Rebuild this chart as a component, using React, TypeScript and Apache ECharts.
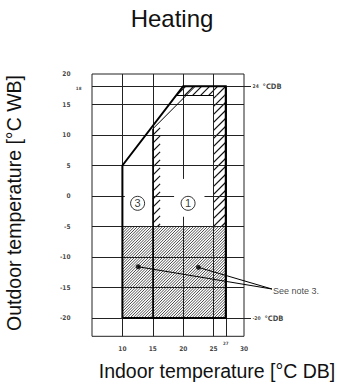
import React, { useEffect, useRef } from 'react';
import * as echarts from 'echarts';

// ---------- data (°C) ----------
const xRange = [5, 30];
const yRange = [-23, 20];
const xTickLabels = [10, 15, 20, 25, 30];
const xSmallTickLabels = [27];
const yTickLabels = [20, 15, 10, 5, 0, -5, -10, -15, -20];
const ySmallTickLabels = [18];

// grid segments: [fixed value, from, to]
const vGridLines: number[][] = [
  [10, -23, 20], [15, -23, 20], [20, -23, -3.4], [20, 2.8, 20], [25, -23, 20], [27, -23, 18],
];
const hGridLines: number[][] = [
  [18, 5, 31.15], [15, 5, 30], [10, 5, 30], [5, 5, 30],
  [0, 5, 10.4], [0, 15, 18.5], [0, 23.5, 30],
  [-5, 5, 30], [-10, 5, 30], [-15, 5, 30], [-20, 5, 31.15],
];

// operating envelope (outer, thick)
const envelope: number[][] = [[10, -20], [10, 5], [20, 18], [27, 18], [27, -20], [10, -20]];
// inner boundaries
const innerDiagonal: number[][] = [[15, 11], [22, 18]];
const innerTop: number[][] = [[18.85, 16.5], [25, 16.5]];
const innerLeft: number[][] = [[15, 11], [15, -20]];

// hatched regions
const denseHatch: number[][] = [[10, -5], [27, -5], [27, -20], [10, -20]];
const bandLeft: number[][] = [[15, 11], [16.2, 12.2], [16.2, -5], [15, -5]];
const bandRight: number[][] = [[25, 16.5], [27, 16.5], [27, -5], [25, -5]];
const bandTop: number[][] = [[20, 18], [27, 18], [27, 16.5], [18.85, 16.5]];

// circled zone numbers
const zoneLabels = ['3', '1'];
const zoneX = [12.5, 20.8];
const zoneY = [-1.2, -1.2];

// note pointer
const noteDots: number[][] = [[12.6, -11.6], [22.5, -11.7]];
const noteAnchor = [34.6, -15.25];
const noteText = 'See note 3.';

// limit labels
const limitY = [18, -20];
const limitValues = ['24', '-20'];

const tickFont = "'DejaVu Sans Condensed', 'Liberation Sans Narrow', 'DejaVu Sans', sans-serif";
const textFont = "'Liberation Sans', Arial, sans-serif";

function hatchLines(pts: number[][], spacing: number) {
  let minX = Infinity, maxX = -Infinity, minS = Infinity, maxS = -Infinity;
  let area = 0;
  for (let i = 0; i < pts.length; i++) {
    const p = pts[i];
    const q = pts[(i + 1) % pts.length];
    minX = Math.min(minX, p[0]); maxX = Math.max(maxX, p[0]);
    const s = p[0] + p[1];
    minS = Math.min(minS, s); maxS = Math.max(maxS, s);
    area += p[0] * q[1] - q[0] * p[1];
  }
  const sign = area > 0 ? 1 : -1;
  const segs: number[][] = [];
  const start = Math.ceil(minS / spacing) * spacing;
  for (let c = start; c <= maxS; c += spacing) {
    let t0 = minX, t1 = maxX;
    for (let i = 0; i < pts.length; i++) {
      const a = pts[i];
      const b = pts[(i + 1) % pts.length];
      const ex = b[0] - a[0], ey = b[1] - a[1];
      const A = sign * (ex * (c - a[1]) + ey * a[0]);
      const B = sign * -(ex + ey);
      if (Math.abs(B) < 1e-9) {
        if (A < 0) { t0 = 1; t1 = 0; break; }
        continue;
      }
      const tc = -A / B;
      if (B > 0) t0 = Math.max(t0, tc); else t1 = Math.min(t1, tc);
    }
    if (t1 - t0 > 0.3) segs.push([t0, c - t0, t1, c - t1]);
  }
  return segs;
}

export default function App() {
  const ref = useRef<HTMLDivElement>(null);
  useEffect(() => {
    if (!ref.current) return;
    const chart = echarts.init(ref.current, undefined, { renderer: 'svg' });

    const hatchRegions = [
      { poly: denseHatch, spacing: 2.8, width: 0.75 },
      { poly: bandLeft, spacing: 8, width: 1.2 },
      { poly: bandRight, spacing: 8, width: 1.2 },
      { poly: bandTop, spacing: 8, width: 1.2 },
    ];

    const gridLineData = [
      ...vGridLines.map((g) => ({ coords: [[g[0], g[1]], [g[0], g[2]]] })),
      ...hGridLines.map((g) => ({ coords: [[g[1], g[0]], [g[2], g[0]]] })),
    ];

    const labelSeries = (data: any[], label: any) => ({
      type: 'scatter',
      data,
      symbol: 'circle',
      symbolSize: 1,
      itemStyle: { color: 'rgba(0,0,0,0)' },
      clip: false,
      silent: true,
      z: 10,
      label: { show: true, color: '#111', fontFamily: tickFont, fontWeight: 'bold', ...label },
    });

    chart.setOption({
      animation: false,
      grid: {
        left: 92, right: 96, top: 74, bottom: 52.7,
        show: true, borderColor: '#222', borderWidth: 1, backgroundColor: 'transparent',
      },
      xAxis: {
        type: 'value', min: xRange[0], max: xRange[1],
        axisLine: { show: false }, axisTick: { show: false }, axisLabel: { show: false }, splitLine: { show: false },
      },
      yAxis: {
        type: 'value', min: yRange[0], max: yRange[1],
        axisLine: { show: false }, axisTick: { show: false }, axisLabel: { show: false }, splitLine: { show: false },
      },
      graphic: [
        {
          type: 'text', x: 172, y: 18.5,
          style: { text: 'Heating', font: `24px ${textFont}`, fill: '#111', textAlign: 'center', textVerticalAlign: 'middle' },
        },
        {
          type: 'text', x: 217, y: 371,
          style: { text: 'Indoor temperature [°C DB]', font: `19.5px ${textFont}`, fill: '#111', textAlign: 'center', textVerticalAlign: 'middle' },
        },
        {
          type: 'text', x: 14, y: 203, rotation: Math.PI / 2,
          style: { text: 'Outdoor temperature [°C WB]', font: `19.5px ${textFont}`, fill: '#111', textAlign: 'center', textVerticalAlign: 'middle' },
        },
      ],
      series: [
        {
          type: 'custom',
          coordinateSystem: 'cartesian2d',
          clip: false,
          silent: true,
          z: 1,
          data: hatchRegions.map((r) => [r.poly[0][0], r.poly[0][1]]),
          renderItem: (params: any, api: any) => {
            const r = hatchRegions[params.dataIndex];
            const px = r.poly.map((p) => api.coord(p));
            const segs = hatchLines(px, r.spacing);
            return {
              type: 'group',
              children: segs.map((s) => ({
                type: 'line',
                shape: { x1: s[0], y1: s[1], x2: s[2], y2: s[3] },
                style: { stroke: '#111', lineWidth: r.width },
              })),
            };
          },
        },
        {
          type: 'lines', coordinateSystem: 'cartesian2d', clip: false, silent: true, z: 2,
          data: gridLineData,
          lineStyle: { color: '#222', width: 1, opacity: 1 },
        },
        {
          type: 'lines', coordinateSystem: 'cartesian2d', polyline: true, clip: false, silent: true, z: 3,
          data: [{ coords: envelope }],
          lineStyle: { color: '#000', width: 2, opacity: 1, join: 'miter' },
        },
        {
          type: 'lines', coordinateSystem: 'cartesian2d', clip: false, silent: true, z: 3,
          data: [{ coords: innerLeft }],
          lineStyle: { color: '#000', width: 1.6, opacity: 1 },
        },
        {
          type: 'lines', coordinateSystem: 'cartesian2d', clip: false, silent: true, z: 3,
          data: [{ coords: innerDiagonal }, { coords: innerTop }],
          lineStyle: { color: '#000', width: 1, opacity: 1 },
        },
        {
          type: 'lines', coordinateSystem: 'cartesian2d', clip: false, silent: true, z: 4,
          data: noteDots.map((d) => ({ coords: [d, noteAnchor] })),
          lineStyle: { color: '#000', width: 1, opacity: 1 },
        },
        {
          type: 'scatter', clip: false, silent: true, z: 5,
          data: noteDots,
          symbol: 'circle', symbolSize: 5,
          itemStyle: { color: '#000' },
        },
        {
          type: 'scatter', clip: false, silent: true, z: 6,
          data: zoneLabels.map((l, i) => ({ value: [zoneX[i], zoneY[i]], name: l })),
          symbol: 'circle', symbolSize: 14,
          itemStyle: { color: '#fff', borderColor: '#000', borderWidth: 1 },
          label: { show: true, position: 'inside', formatter: '{b}', fontSize: 11, color: '#000', fontFamily: textFont },
        },
        labelSeries([noteAnchor], {
          position: 'right', distance: 0.5, offset: [0, 1.5], formatter: noteText,
          fontFamily: textFont, fontWeight: 'normal', fontSize: 9,
        }),
        labelSeries(yTickLabels.map((v) => [xRange[0], v]), {
          position: 'left', distance: 21, fontSize: 6.5, formatter: (p: any) => String(p.value[1]),
        }),
        labelSeries(ySmallTickLabels.map((v) => [xRange[0], v]), {
          position: 'left', distance: 10, offset: [0, 2.5], fontSize: 4.5, formatter: (p: any) => String(p.value[1]),
        }),
        labelSeries(xTickLabels.map((v) => [v, yRange[0]]), {
          position: 'bottom', distance: 9, fontSize: 6.5, formatter: (p: any) => String(p.value[0]),
        }),
        labelSeries(xSmallTickLabels.map((v) => [v, yRange[0]]), {
          position: 'bottom', distance: 4.5, fontSize: 4.5, formatter: (p: any) => String(p.value[0]),
        }),
        labelSeries(limitY.map((y, i) => ({ value: [xRange[1], y], name: limitValues[i] })), {
          position: 'right', distance: 8,
          formatter: (p: any) => `{s|${p.name}} {b|°CDB}`,
          rich: {
            s: { fontSize: 5, fontFamily: tickFont, fontWeight: 'bold', color: '#111' },
            b: { fontSize: 7.5, fontFamily: tickFont, fontWeight: 'bold', color: '#111' },
          },
        }),
      ],
    });
    return () => chart.dispose();
  }, []);
  return <div ref={ref} style={{ position: 'absolute', left: 0, top: 0, width: 340, height: 389 }} />;
}
